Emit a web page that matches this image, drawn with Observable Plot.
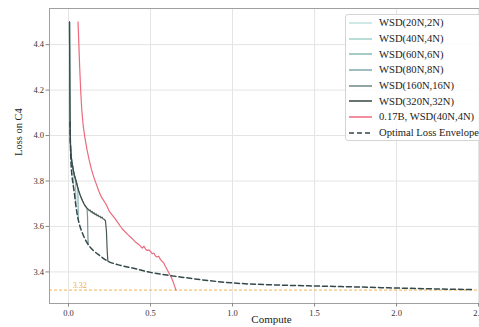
<!DOCTYPE html>
<html>
<head>
<meta charset="utf-8">
<script src="https://cdn.jsdelivr.net/npm/d3@7"></script>
<script src="https://cdn.jsdelivr.net/npm/@observablehq/plot@0.6"></script>
<style>
  html, body { margin: 0; padding: 0; background: white; }
  body { width: 479px; height: 327px; overflow: hidden; position: relative; font-family: "Liberation Serif", "DejaVu Serif", serif; }
  #chart { position: absolute; left: 0; top: 0; width: 500px; }
  #chart svg { max-width: none !important; }
  #legend { position: absolute; left: 345px; top: 14px; width: 160px; height: 127px; border: 1px solid #d4d4d4; border-radius: 3px; background: rgba(255,255,255,0.85); box-sizing: border-box; padding: 0 0 0 3px; }
  .row { height: 15.7px; display: flex; align-items: center; font-size: 10.6px; color: #222; white-space: nowrap; }
  .row svg { margin-right: 7px; flex: none; }
</style>
</head>
<body>
<div id="chart"></div>
<div id="legend"></div>
<script>
// ---- data ----
const xTicks = [0, 0.5, 1.0, 1.5, 2.0, 2.5];
const yTicks = [3.4, 3.6, 3.8, 4.0, 4.2, 4.4];

const runNames = ["WSD(20N,2N)", "WSD(40N,4N)", "WSD(60N,6N)", "WSD(80N,8N)", "WSD(160N,16N)", "WSD(320N,32N)"];
const redName = "0.17B, WSD(40N,4N)";
const envName = "Optimal Loss Envelope";

// shared stable-phase trajectory of the WSD runs
const stableCompute = [0.006, 0.0065, 0.007, 0.0078, 0.0087, 0.0097, 0.011, 0.013, 0.016, 0.02, 0.025, 0.03, 0.036, 0.042, 0.048, 0.055, 0.062, 0.07, 0.078, 0.086, 0.094, 0.102, 0.108, 0.114, 0.12, 0.126, 0.132, 0.138, 0.144, 0.15, 0.156, 0.162, 0.168, 0.174, 0.18, 0.186, 0.192, 0.198, 0.204, 0.21, 0.216];
const stableLoss = [4.50, 4.40, 4.31, 4.20, 4.11, 4.04, 3.98, 3.94, 3.91, 3.885, 3.865, 3.845, 3.825, 3.81, 3.795, 3.775, 3.757, 3.74, 3.725, 3.712, 3.70, 3.69, 3.685, 3.679, 3.676, 3.669, 3.672, 3.663, 3.666, 3.657, 3.66, 3.652, 3.655, 3.647, 3.65, 3.643, 3.645, 3.638, 3.641, 3.634, 3.632];

// decay phases of each run
const decayCompute = [
  [0.0135, 0.0142, 0.0147, 0.015],
  [0.027, 0.0285, 0.0295, 0.03],
  [0.0405, 0.0425, 0.0442, 0.045],
  [0.054, 0.057, 0.059, 0.06],
  [0.108, 0.113, 0.116, 0.118, 0.12],
  [0.216, 0.225, 0.231, 0.236, 0.24]
];
const decayLoss = [
  [3.935, 3.92, 3.90, 3.885],
  [3.857, 3.84, 3.80, 3.775],
  [3.814, 3.79, 3.72, 3.69],
  [3.778, 3.76, 3.67, 3.63],
  [3.685, 3.678, 3.64, 3.56, 3.52],
  [3.632, 3.625, 3.58, 3.49, 3.447]
];

// 0.17B model run
const redCompute = [0.058, 0.063, 0.068, 0.074, 0.081, 0.09, 0.1, 0.112, 0.125, 0.14, 0.155, 0.17, 0.185, 0.2, 0.227, 0.25, 0.288, 0.327, 0.36, 0.39, 0.41, 0.43, 0.44, 0.45, 0.46, 0.47, 0.48, 0.49, 0.5, 0.51, 0.52, 0.53, 0.54, 0.55, 0.56, 0.57, 0.58, 0.59, 0.605, 0.62, 0.63, 0.64, 0.648, 0.655];
const redLoss = [4.50, 4.40, 4.30, 4.20, 4.11, 4.04, 3.99, 3.94, 3.895, 3.85, 3.815, 3.785, 3.755, 3.73, 3.70, 3.665, 3.63, 3.59, 3.565, 3.545, 3.53, 3.52, 3.512, 3.505, 3.513, 3.50, 3.494, 3.497, 3.49, 3.48, 3.483, 3.47, 3.466, 3.469, 3.455, 3.447, 3.44, 3.425, 3.405, 3.385, 3.37, 3.352, 3.335, 3.32];

// optimal loss envelope
const envCompute = [0.0095, 0.011, 0.013, 0.016, 0.02, 0.027, 0.035, 0.045, 0.055, 0.07, 0.085, 0.1, 0.12, 0.15, 0.19, 0.24, 0.3, 0.39, 0.5, 0.6, 0.71, 0.85, 1.05, 1.25, 1.5, 1.75, 2.0, 2.25, 2.46];
const envLoss = [4.06, 3.98, 3.92, 3.87, 3.83, 3.79, 3.75, 3.69, 3.645, 3.60, 3.57, 3.545, 3.52, 3.495, 3.472, 3.447, 3.432, 3.417, 3.398, 3.386, 3.375, 3.362, 3.349, 3.343, 3.338, 3.334, 3.329, 3.325, 3.322];

const targetLoss = [3.32];

// ---- styles ----
const runColors = ["#bfe3de", "#a0d0c9", "#88bab3", "#80a8ad", "#6d8784", "#34463f"];
const redColor = "#ec6a7c";
const envColor = "#34474a";
const targetColor = "#f3aa3c";

// ---- build tables ----
const runRows = [];
runNames.forEach((name, i) => {
  const start = decayCompute[i][0];
  stableCompute.forEach((c, j) => { if (c < start) runRows.push({run: name, compute: c, loss: stableLoss[j]}); });
  decayCompute[i].forEach((c, j) => runRows.push({run: name, compute: c, loss: decayLoss[i][j]}));
});
const redRows = redCompute.map((c, i) => ({compute: c, loss: redLoss[i]}));
const envRows = envCompute.map((c, i) => ({compute: c, loss: envLoss[i]}));

const chart = Plot.plot({
  width: 500,
  height: 327,
  marginLeft: 49,
  marginRight: 7,
  marginTop: 8,
  marginBottom: 24,
  style: {fontFamily: "'Liberation Serif', 'DejaVu Serif', serif", fontSize: "8.5px", color: "#333", background: "white", overflow: "visible", maxWidth: "none"},
  x: {domain: [-0.116, 2.591]},
  y: {domain: [3.261, 4.559]},
  color: {domain: runNames, range: runColors},
  marks: [
    Plot.gridX(xTicks, {stroke: "#e4e4e4", strokeOpacity: 1, strokeWidth: 1}),
    Plot.gridY(yTicks, {stroke: "#e4e4e4", strokeOpacity: 1, strokeWidth: 1}),
    Plot.ruleY(targetLoss, {stroke: targetColor, strokeDasharray: "3,2", strokeWidth: 1, strokeOpacity: 0.9}),
    Plot.text(targetLoss, {x: 0.026, y: d => d, text: d => d.toFixed(2), textAnchor: "start", dy: -5, fill: targetColor, fontSize: 8}),
    Plot.line(runRows, {x: "compute", y: "loss", z: "run", stroke: "run", strokeWidth: 1.2, strokeOpacity: 0.9}),
    Plot.line(redRows, {x: "compute", y: "loss", stroke: redColor, strokeWidth: 1.2}),
    Plot.line(envRows, {x: "compute", y: "loss", stroke: envColor, strokeWidth: 1.5, strokeDasharray: "5,3", curve: "monotone-x"}),
    Plot.frame({stroke: "#a0a0a0", strokeWidth: 1}),
    Plot.axisX(xTicks, {tickSize: 3.5, tickPadding: 3, tickFormat: d3.format(".1f"), stroke: "#888", fill: "#333", label: null}),
    Plot.axisY(yTicks, {tickSize: 3.5, tickPadding: 2, tickFormat: d3.format(".1f"), stroke: "#888", fill: "#333", label: null}),
    Plot.text(["Loss on C4"], {frameAnchor: "left", rotate: -90, dx: -31, fontSize: 10.5, fill: "#222"}),
    Plot.text(["Compute"], {frameAnchor: "bottom", dy: 19, fontSize: 11, fill: "#222"}),
    Plot.text(["1e21"], {frameAnchor: "bottom-right", dy: 21, textAnchor: "end", fontSize: 8, fill: "#333"})
  ]
});
document.getElementById("chart").appendChild(chart);

// ---- legend ----
const legend = document.getElementById("legend");
const entries = runNames.map((n, i) => ({name: n, color: runColors[i], dash: null}))
  .concat([{name: redName, color: redColor, dash: null}, {name: envName, color: envColor, dash: "5,3"}]);
entries.forEach(e => {
  const row = document.createElement("div");
  row.className = "row";
  row.innerHTML = `<svg width="23" height="6"><line x1="0" y1="3" x2="23" y2="3" stroke="${e.color}" stroke-width="1.5" ${e.dash ? `stroke-dasharray="${e.dash}"` : ""}/></svg><span>${e.name}</span>`;
  legend.appendChild(row);
});
</script>
</body>
</html>
